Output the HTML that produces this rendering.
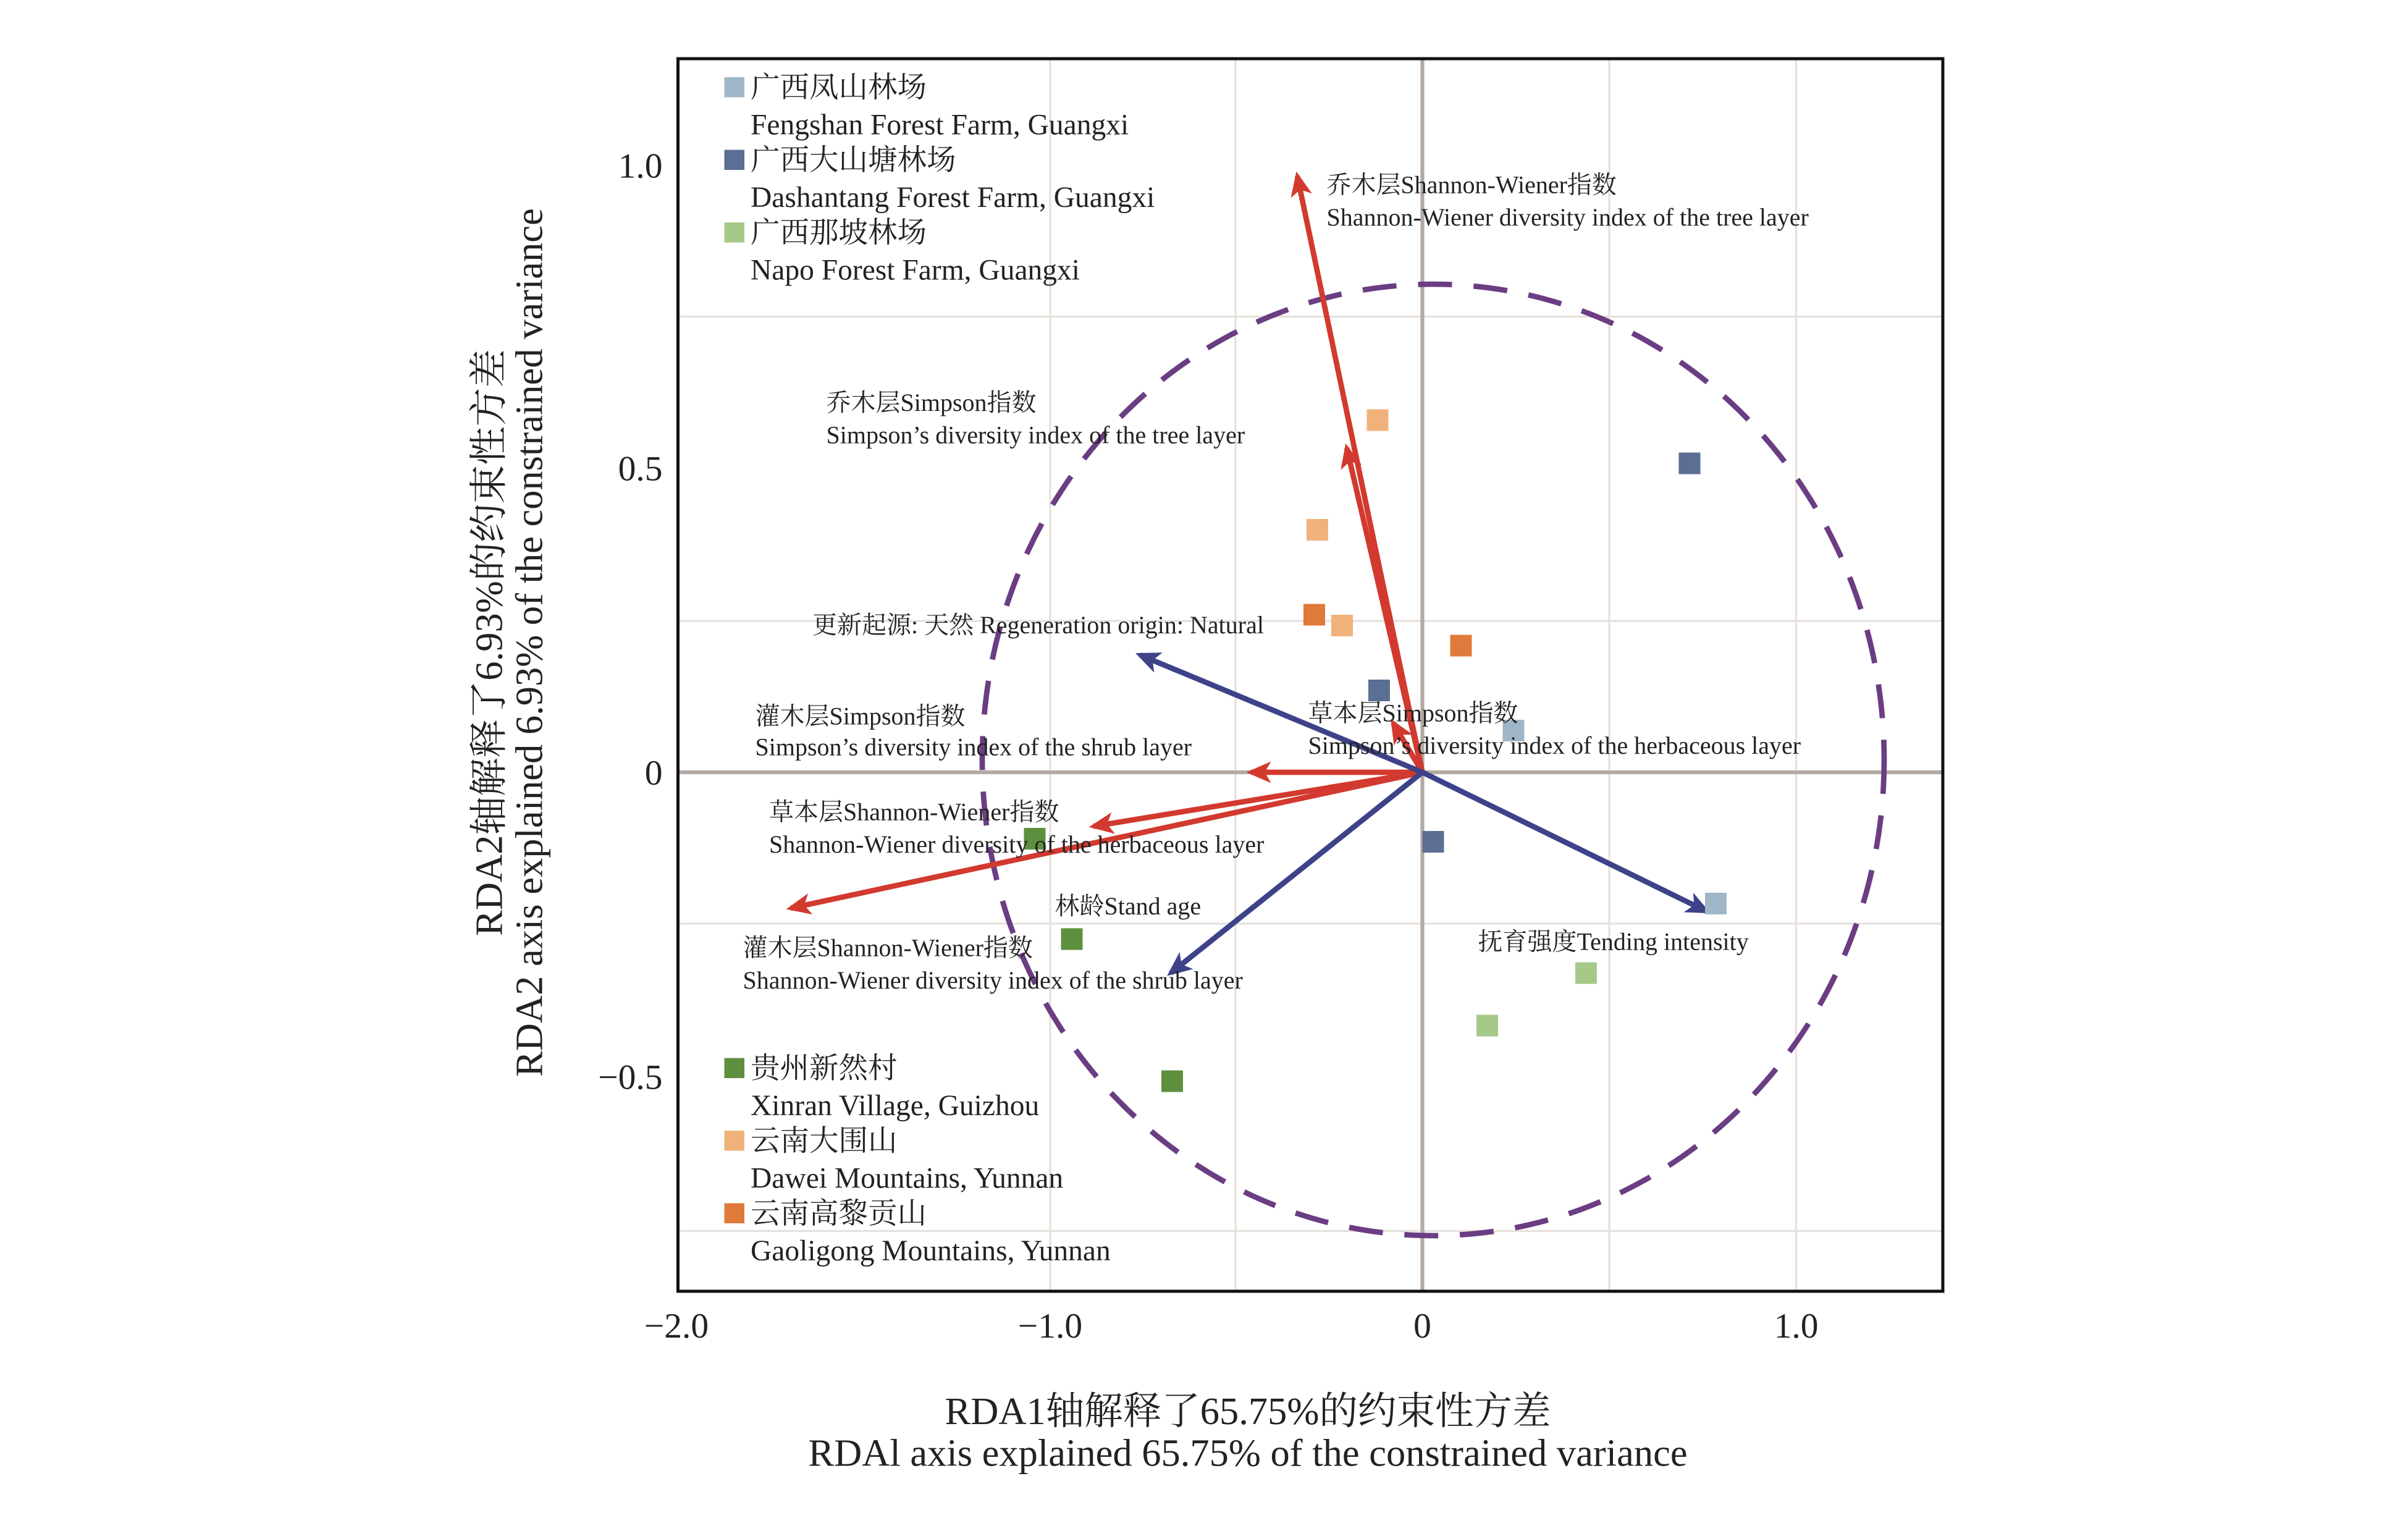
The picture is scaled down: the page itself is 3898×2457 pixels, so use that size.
<!DOCTYPE html>
<html><head><meta charset="utf-8"><style>
html,body{margin:0;padding:0;background:#fff;}
svg{display:block;}
text{font-family:"Liberation Serif","Noto Serif CJK SC",serif;fill:#222;}
</style></head><body>
<svg width="3898" height="2457" viewBox="0 0 1559.2 982.8" xmlns="http://www.w3.org/2000/svg">
<defs>
<marker id="ar" markerWidth="16" markerHeight="14" refX="13" refY="7" orient="auto" markerUnits="userSpaceOnUse"><path d="M0,0 L16,7 L0,14 L4,7 z" fill="#d23a2f"/></marker>
<marker id="ab" markerWidth="16" markerHeight="14" refX="13" refY="7" orient="auto" markerUnits="userSpaceOnUse"><path d="M0,0 L16,7 L0,14 L4,7 z" fill="#3e4288"/></marker>
</defs>
<g stroke="#e6e0dc" stroke-width="1.3">
<line x1="680" y1="38" x2="680" y2="836"/><line x1="800" y1="38" x2="800" y2="836"/>
<line x1="1042" y1="38" x2="1042" y2="836"/><line x1="1163" y1="38" x2="1163" y2="836"/>
<line x1="439" y1="205" x2="1258" y2="205"/><line x1="439" y1="402" x2="1258" y2="402"/>
<line x1="439" y1="598" x2="1258" y2="598"/><line x1="439" y1="797" x2="1258" y2="797"/>
</g>
<g stroke="#b3aaa5" stroke-width="2.5">
<line x1="921" y1="38" x2="921" y2="836"/><line x1="439" y1="500" x2="1258" y2="500"/>
</g>
<ellipse cx="928" cy="492" rx="292" ry="308" fill="none" stroke="#6b3d82" stroke-width="3.5" stroke-dasharray="22,14"/>
<g stroke="#d23a2f" stroke-width="3.5" fill="none">
<line x1="921" y1="500" x2="840" y2="114" marker-end="url(#ar)"/>
<line x1="921" y1="500" x2="872" y2="290" marker-end="url(#ar)"/>
<line x1="921" y1="500" x2="810" y2="500" marker-end="url(#ar)"/>
<line x1="921" y1="500" x2="708" y2="535" marker-end="url(#ar)"/>
<line x1="921" y1="500" x2="512" y2="588" marker-end="url(#ar)"/>
<line x1="921" y1="500" x2="902" y2="468" marker-end="url(#ar)"/>
<line x1="921" y1="500" x2="860" y2="510"/>
</g>
<g stroke="#3e4288" stroke-width="3.5">
<line x1="921" y1="500" x2="738" y2="424" marker-end="url(#ab)"/>
<line x1="921" y1="500" x2="1105" y2="590" marker-end="url(#ab)"/>
<line x1="921" y1="500" x2="758" y2="630" marker-end="url(#ab)"/>
</g>
<g>
<rect x="973" y="466" width="14" height="14" fill="#9fb6c6"/><rect x="1104" y="578" width="14" height="14" fill="#9fb6c6"/>
<rect x="1087" y="293" width="14" height="14" fill="#5b6e93"/><rect x="886" y="440" width="14" height="14" fill="#5b6e93"/><rect x="921" y="538" width="14" height="14" fill="#5b6e93"/>
<rect x="1020" y="623" width="14" height="14" fill="#a6c98a"/><rect x="956" y="657" width="14" height="14" fill="#a6c98a"/>
<rect x="663" y="536" width="14" height="14" fill="#5e8f3e"/><rect x="687" y="601" width="14" height="14" fill="#5e8f3e"/><rect x="752" y="693" width="14" height="14" fill="#5e8f3e"/>
<rect x="885" y="265" width="14" height="14" fill="#f0b27a"/><rect x="846" y="336" width="14" height="14" fill="#f0b27a"/><rect x="862" y="398" width="14" height="14" fill="#f0b27a"/>
<rect x="844" y="391" width="14" height="14" fill="#e07a3a"/><rect x="939" y="411" width="14" height="14" fill="#e07a3a"/>
</g>
<rect x="439" y="38" width="819" height="798" fill="none" stroke="#111" stroke-width="2"/>
<g font-size="16">
<text x="859" y="125">乔木层Shannon-Wiener指数</text><text x="859" y="146">Shannon-Wiener diversity index of the tree layer</text>
<text x="535" y="266">乔木层Simpson指数</text><text x="535" y="287">Simpson’s diversity index of the tree layer</text>
<text x="526" y="410">更新起源: 天然 Regeneration origin: Natural</text>
<text x="489" y="469">灌木层Simpson指数</text><text x="489" y="489">Simpson’s diversity index of the shrub layer</text>
<text x="847" y="467">草本层Simpson指数</text><text x="847" y="488">Simpson’s diversity index of the herbaceous layer</text>
<text x="498" y="531">草本层Shannon-Wiener指数</text><text x="498" y="552">Shannon-Wiener diversity of the herbaceous layer</text>
<text x="683" y="592">林龄Stand age</text>
<text x="957" y="615">抚育强度Tending intensity</text>
<text x="481" y="619">灌木层Shannon-Wiener指数</text><text x="481" y="640">Shannon-Wiener diversity index of the shrub layer</text>
</g>
<g font-size="19">
<rect x="469" y="50" width="13" height="13" fill="#9fb6c6"/><text x="486" y="63">广西凤山林场</text><text x="486" y="87">Fengshan Forest Farm, Guangxi</text>
<rect x="469" y="97" width="13" height="13" fill="#5b6e93"/><text x="486" y="110">广西大山塘林场</text><text x="486" y="134">Dashantang Forest Farm, Guangxi</text>
<rect x="469" y="144" width="13" height="13" fill="#a6c98a"/><text x="486" y="157">广西那坡林场</text><text x="486" y="181">Napo Forest Farm, Guangxi</text>
<rect x="469" y="685" width="13" height="13" fill="#5e8f3e"/><text x="486" y="698">贵州新然村</text><text x="486" y="722">Xinran Village, Guizhou</text>
<rect x="469" y="732" width="13" height="13" fill="#f0b27a"/><text x="486" y="745">云南大围山</text><text x="486" y="769">Dawei Mountains, Yunnan</text>
<rect x="469" y="779" width="13" height="13" fill="#e07a3a"/><text x="486" y="792">云南高黎贡山</text><text x="486" y="816">Gaoligong Mountains, Yunnan</text>
</g>
<g font-size="23" text-anchor="end">
<text x="429" y="115">1.0</text><text x="429" y="311">0.5</text><text x="429" y="508">0</text><text x="429" y="705">−0.5</text>
</g>
<g font-size="23" text-anchor="middle">
<text x="438" y="866">−2.0</text><text x="680" y="866">−1.0</text><text x="921" y="866">0</text><text x="1163" y="866">1.0</text>
<text x="808" y="922" font-size="25">RDA1轴解释了65.75%的约束性方差</text>
<text x="808" y="949" font-size="25">RDAl axis explained 65.75% of the constrained variance</text>
<text transform="translate(325,416) rotate(-90)" font-size="25">RDA2轴解释了6.93%的约束性方差</text>
<text transform="translate(351,416) rotate(-90)" font-size="25">RDA2 axis explained 6.93% of the constrained variance</text>
</g>
</svg>
</body></html>
